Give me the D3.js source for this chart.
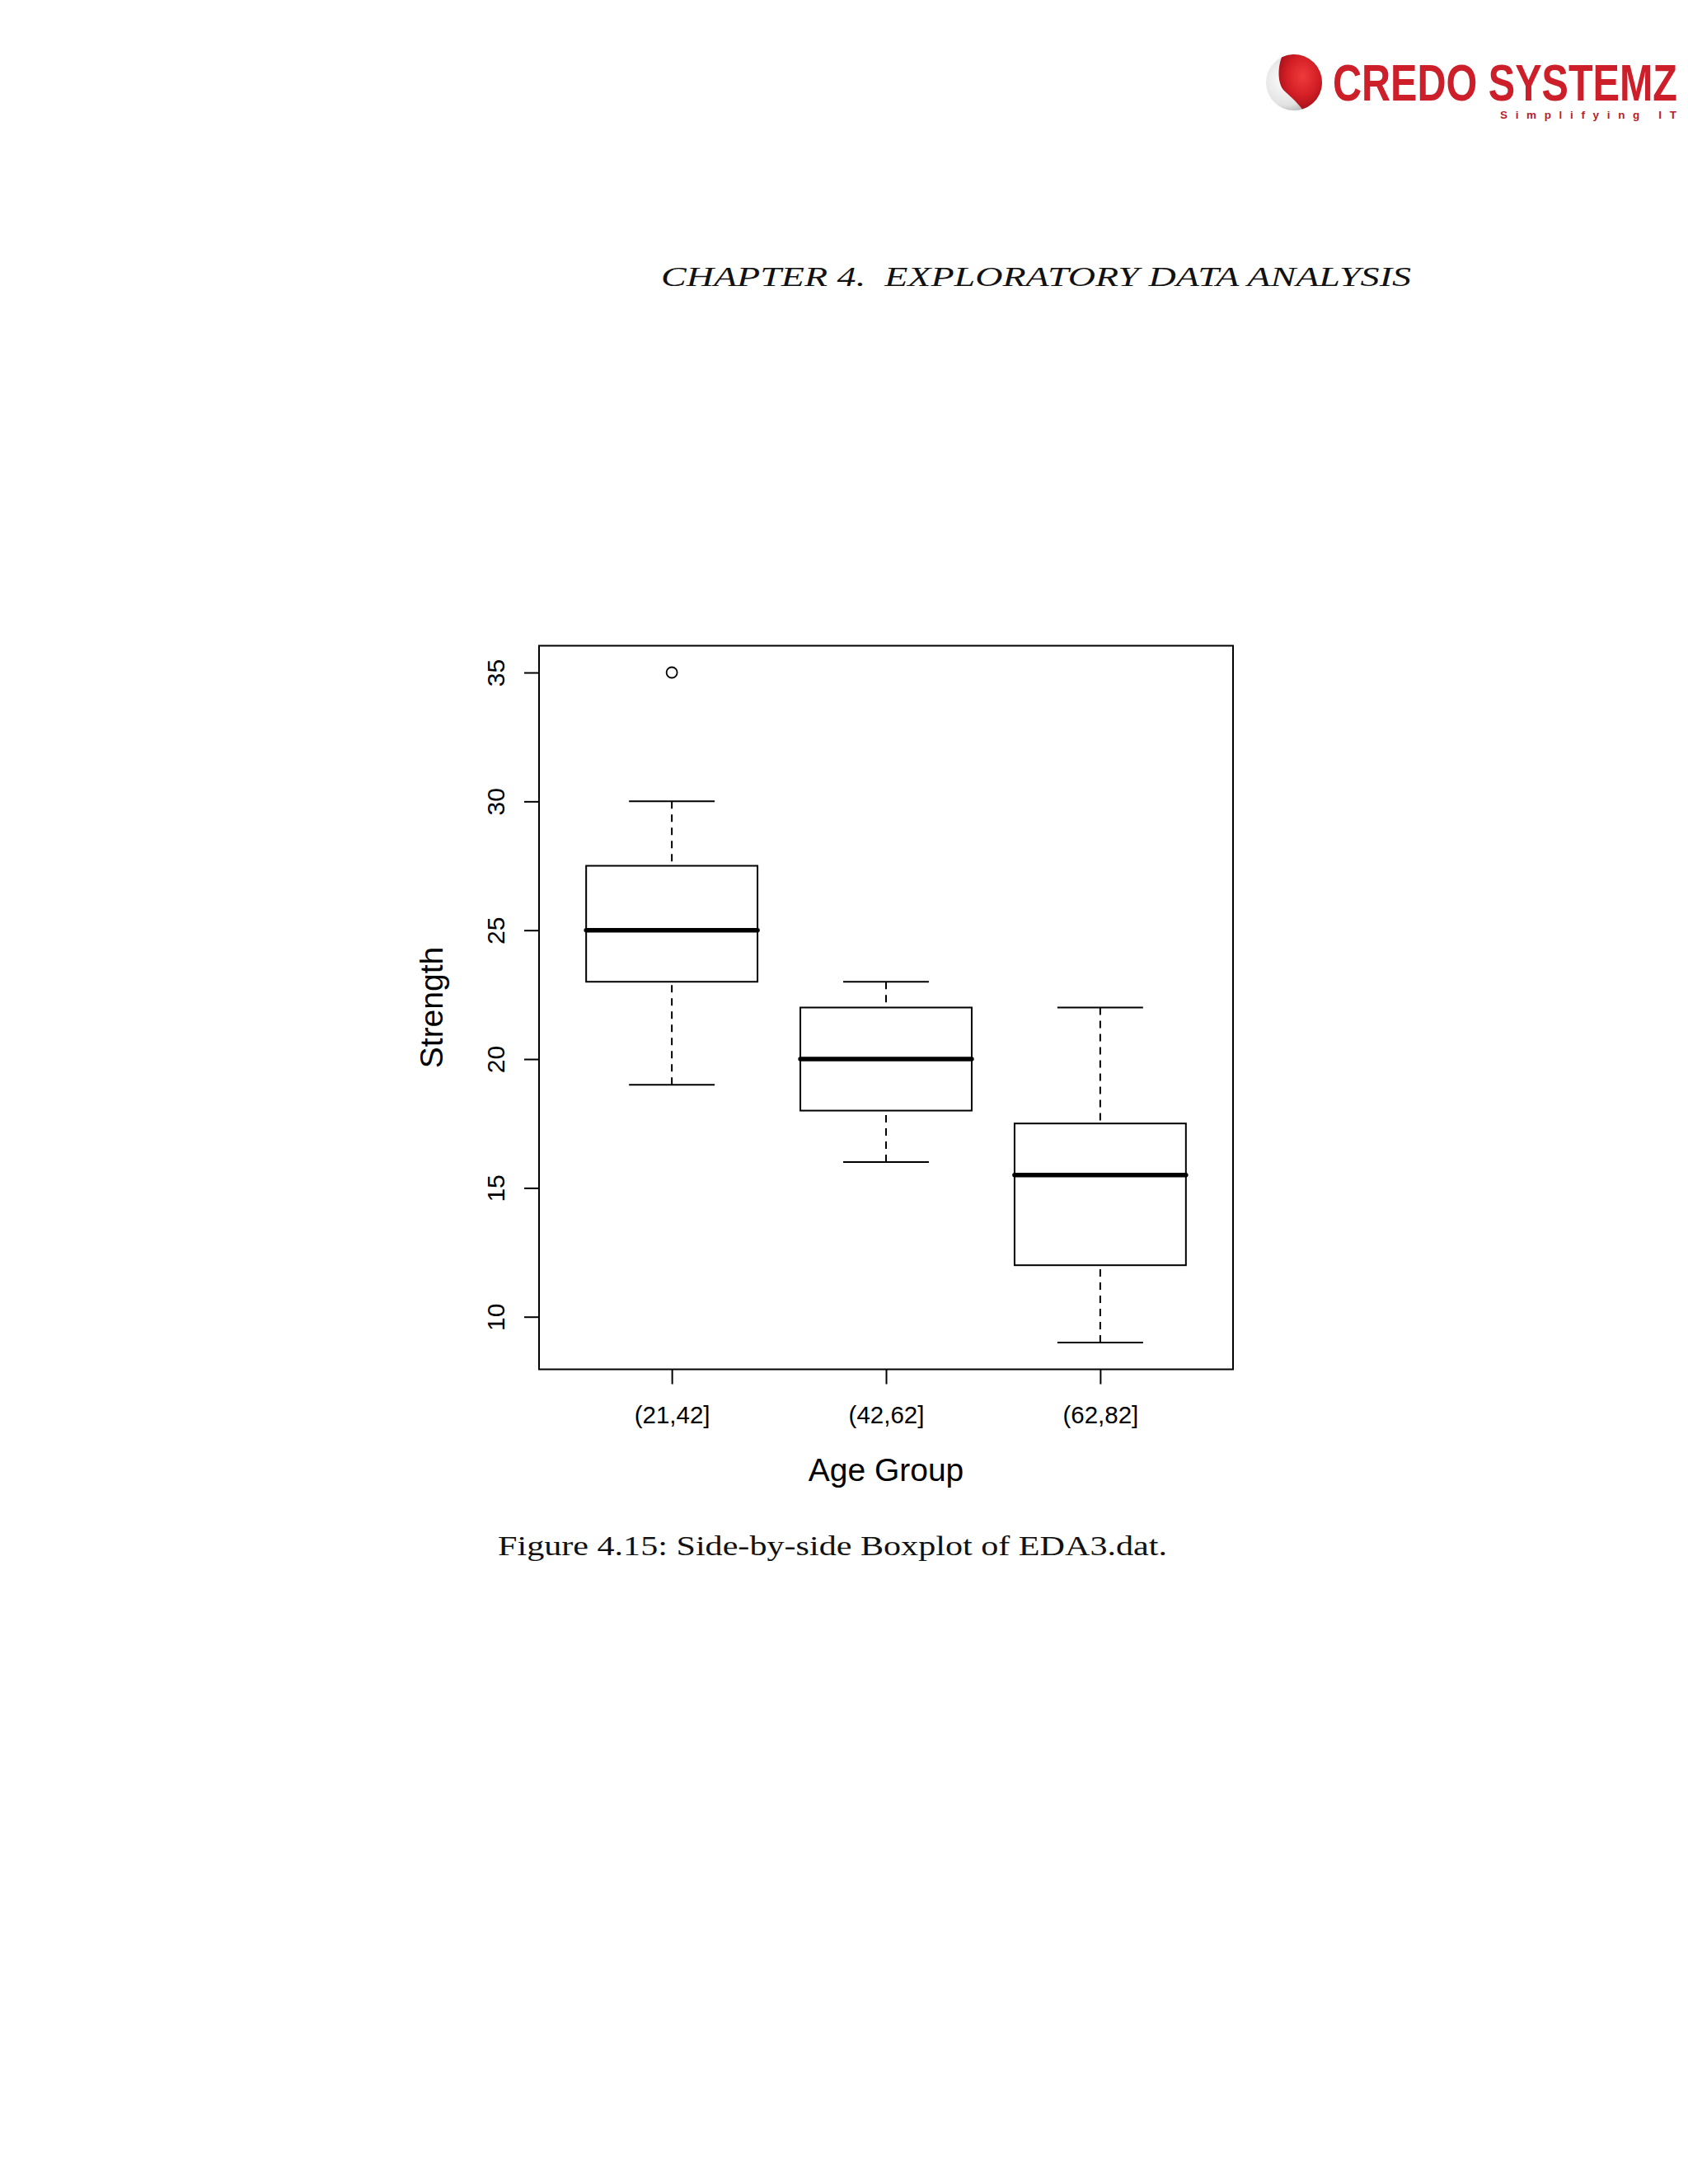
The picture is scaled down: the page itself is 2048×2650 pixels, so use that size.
<!DOCTYPE html>
<html>
<head>
<meta charset="utf-8">
<script src="https://cdn.jsdelivr.net/npm/d3@7"></script>
<style>
  html, body { margin: 0; padding: 0; background: #ffffff; }
  svg { display: block; }
</style>
</head>
<body>
<svg id="page" width="2048" height="2650"></svg>
<script>
// ---- data ----
const categories = ["(21,42]", "(42,62]", "(62,82]"];
const whiskerLow  = [19, 16, 9];
const q1          = [23, 18, 12];
const medians     = [25, 20, 15.5];
const q3          = [27.5, 22, 17.5];
const whiskerHigh = [30, 23, 22];
const outliers    = [[35], [], []];
const yTicks      = [10, 15, 20, 25, 30, 35];
const xLabel = "Age Group";
const yLabel = "Strength";
const header = "CHAPTER 4.  EXPLORATORY DATA ANALYSIS";
const caption = "Figure 4.15: Side-by-side Boxplot of EDA3.dat.";

const svg = d3.select("#page");
svg.append("rect").attr("width", 2048).attr("height", 2650).attr("fill", "#ffffff");

// ---- logo ----
const defs = svg.append("defs");
const silver = defs.append("radialGradient").attr("id", "silver").attr("cx", "35%").attr("cy", "45%").attr("r", "65%");
silver.append("stop").attr("offset", "0%").attr("stop-color", "#ffffff");
silver.append("stop").attr("offset", "70%").attr("stop-color", "#e2e2e2");
silver.append("stop").attr("offset", "100%").attr("stop-color", "#a9a9a9");
const red = defs.append("radialGradient").attr("id", "redg").attr("cx", "55%").attr("cy", "40%").attr("r", "60%");
red.append("stop").attr("offset", "0%").attr("stop-color", "#ef3b3b");
red.append("stop").attr("offset", "60%").attr("stop-color", "#d41f26");
red.append("stop").attr("offset", "100%").attr("stop-color", "#a8121a");

const logo = svg.append("g").attr("transform", "translate(1570,100)");
logo.append("circle").attr("r", 34).attr("fill", "url(#silver)");
logo.append("path")
  .attr("d", "M -15,-30.5 A 34 34 0 1 1 10,32.5 C 2,22 -6,16 -12,10 C -20,2 -20,-18 -15,-30.5 Z")
  .attr("fill", "url(#redg)");

svg.append("text")
  .attr("transform", "translate(1617,122) scale(1,1.28)")
  .attr("x", 0).attr("y", 0)
  .attr("font-family", "'Liberation Sans', Arial, sans-serif")
  .attr("font-weight", "bold").attr("font-size", 48.5)
  .attr("fill", "#cc1f29")
  .attr("textLength", 418).attr("lengthAdjust", "spacingAndGlyphs")
  .text("CREDO SYSTEMZ");
svg.append("text")
  .attr("x", 1820).attr("y", 144)
  .attr("font-family", "'Liberation Sans', sans-serif")
  .attr("font-weight", "bold").attr("font-size", 13.5)
  .attr("fill", "#b8202a")
  .attr("textLength", 214).attr("lengthAdjust", "spacing")
  .text("Simplifying IT");

// ---- header & caption ----
svg.append("text")
  .attr("x", 802).attr("y", 347)
  .attr("font-family", "'Liberation Serif', serif").attr("font-style", "italic")
  .attr("font-size", 33).attr("fill", "#111")
  .attr("textLength", 910).attr("lengthAdjust", "spacingAndGlyphs")
  .attr("xml:space", "preserve")
  .text(header);

svg.append("text")
  .attr("x", 604).attr("y", 1887)
  .attr("font-family", "'Liberation Serif', serif")
  .attr("font-size", 34).attr("fill", "#111")
  .attr("textLength", 812).attr("lengthAdjust", "spacingAndGlyphs")
  .text(caption);

// ---- plot ----
const plot = { left: 654, right: 1496, top: 783.5, bottom: 1661.5 };
const idx = categories.map((d, i) => i + 1);
const xPad = (idx.length) * 0.04;
const x = d3.scaleLinear()
  .domain([0.5 - xPad, idx.length + 0.5 + xPad])
  .range([plot.left, plot.right]);
const allVals = [...whiskerLow, ...whiskerHigh, ...outliers.flat()];
const yMin = d3.min(allVals), yMax = d3.max(allVals);
const yPad = (yMax - yMin) * 0.04;
const y = d3.scaleLinear()
  .domain([yMin - yPad, yMax + yPad])
  .range([plot.bottom, plot.top]);

const g = svg.append("g");
const boxW = 0.8, stapleW = 0.4;

categories.forEach((c, i) => {
  const cx = i + 1;
  const gg = g.append("g").attr("stroke", "#000").attr("fill", "none");
  // whiskers (dashed), drawn from staple to hinge
  gg.append("line")
    .attr("x1", x(cx)).attr("x2", x(cx))
    .attr("y1", y(whiskerHigh[i])).attr("y2", y(q3[i]))
    .attr("stroke-width", 2).attr("stroke-dasharray", "9,7");
  gg.append("line")
    .attr("x1", x(cx)).attr("x2", x(cx))
    .attr("y1", y(whiskerLow[i])).attr("y2", y(q1[i]))
    .attr("stroke-width", 2).attr("stroke-dasharray", "9,7");
  // staples
  [whiskerHigh[i], whiskerLow[i]].forEach(v => {
    gg.append("line")
      .attr("x1", x(cx - stapleW / 2)).attr("x2", x(cx + stapleW / 2))
      .attr("y1", y(v)).attr("y2", y(v))
      .attr("stroke-width", 2);
  });
  // box
  gg.append("rect")
    .attr("x", x(cx - boxW / 2)).attr("width", x(cx + boxW / 2) - x(cx - boxW / 2))
    .attr("y", y(q3[i])).attr("height", y(q1[i]) - y(q3[i]))
    .attr("stroke-width", 2);
  // median
  gg.append("line")
    .attr("x1", x(cx - boxW / 2)).attr("x2", x(cx + boxW / 2))
    .attr("y1", y(medians[i])).attr("y2", y(medians[i]))
    .attr("stroke-width", 5.5).attr("stroke-linecap", "round");
  // outliers
  outliers[i].forEach(v => {
    gg.append("circle").attr("cx", x(cx)).attr("cy", y(v)).attr("r", 6.5).attr("stroke-width", 1.8);
  });
});

// frame
g.append("rect")
  .attr("x", plot.left).attr("y", plot.top)
  .attr("width", plot.right - plot.left).attr("height", plot.bottom - plot.top)
  .attr("fill", "none").attr("stroke", "#000").attr("stroke-width", 2);

// y axis
const yAxis = d3.axisLeft(y).tickValues(yTicks).tickSize(18).tickPadding(0).tickFormat(d3.format("d"));
const ya = svg.append("g").attr("transform", `translate(${plot.left},0)`).call(yAxis);
ya.select(".domain").remove();
ya.selectAll(".tick line").attr("stroke", "#000").attr("stroke-width", 2);
ya.selectAll(".tick text")
  .attr("x", null).attr("dy", null)
  .attr("transform", "translate(-42,0) rotate(-90)")
  .attr("text-anchor", "middle")
  .attr("font-family", "'Liberation Sans', Arial, sans-serif")
  .attr("font-size", 30).attr("fill", "#000");

// x axis
const xAxis = d3.axisBottom(x).tickValues(idx).tickSize(18).tickPadding(0)
  .tickFormat(d => categories[d - 1]);
const xa = svg.append("g").attr("transform", `translate(0,${plot.bottom})`).call(xAxis);
xa.select(".domain").remove();
xa.selectAll(".tick line").attr("stroke", "#000").attr("stroke-width", 2);
xa.selectAll(".tick text")
  .attr("y", 65).attr("dy", null)
  .attr("text-anchor", "middle")
  .attr("font-family", "'Liberation Sans', Arial, sans-serif")
  .attr("font-size", 29.5).attr("fill", "#000");

// axis titles
svg.append("text")
  .attr("x", (plot.left + plot.right) / 2).attr("y", 1797)
  .attr("text-anchor", "middle")
  .attr("font-family", "'Liberation Sans', Arial, sans-serif")
  .attr("font-size", 39).attr("fill", "#000")
  .text(xLabel);
svg.append("text")
  .attr("transform", `translate(537,${(plot.top + plot.bottom) / 2}) rotate(-90)`)
  .attr("text-anchor", "middle")
  .attr("font-family", "'Liberation Sans', Arial, sans-serif")
  .attr("font-size", 39).attr("fill", "#000")
  .text(yLabel);
</script>
</body>
</html>
